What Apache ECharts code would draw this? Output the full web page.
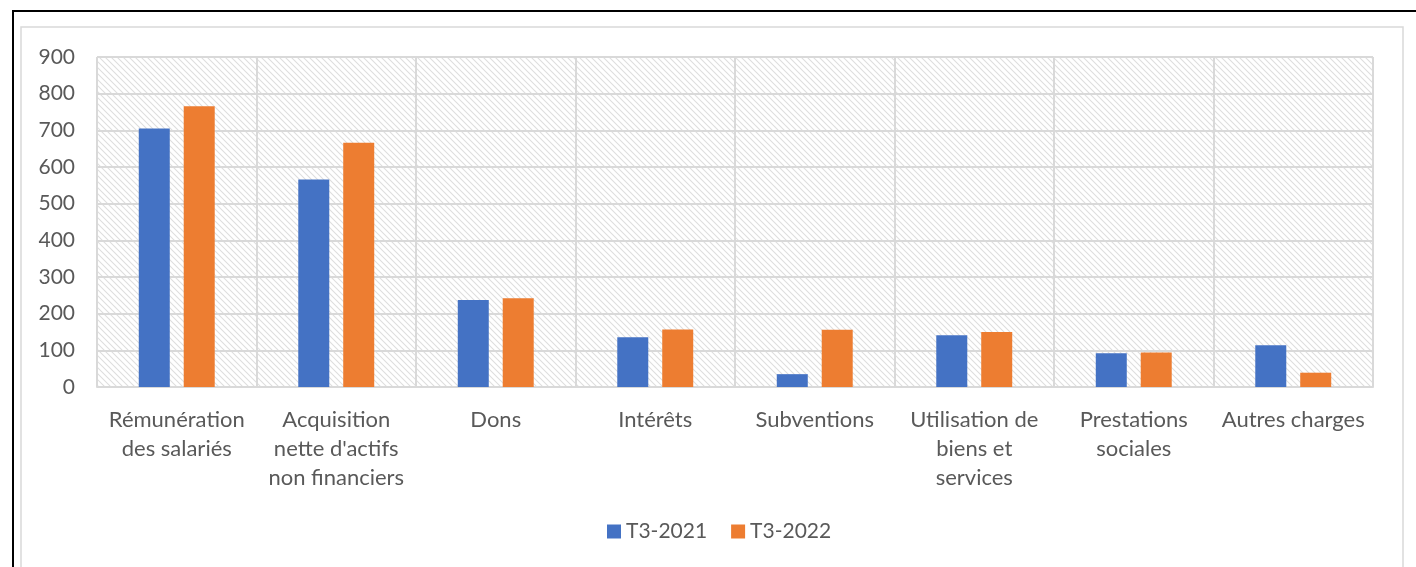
<!DOCTYPE html>
<html>
<head>
<meta charset="utf-8">
<script src="https://cdn.jsdelivr.net/npm/echarts@6/dist/echarts.min.js"></script>
<style>
html,body{margin:0;padding:0;background:#fff;}
#chart{width:1416px;height:567px;}
</style>
</head>
<body>
<div id="chart"></div>
<script>
var categories = [
  "Rémunération\ndes salariés",
  "Acquisition\nnette d'actifs\nnon financiers",
  "Dons",
  "Intérêts",
  "Subventions",
  "Utilisation de\nbiens et\nservices",
  "Prestations\nsociales",
  "Autres charges"
];
var seriesNames = ["T3-2021", "T3-2022"];
var values2021 = [705, 566, 237, 136, 35, 141, 92, 114];
var values2022 = [766, 666, 242, 157, 156, 150, 94, 39];
var yTicks = {min: 0, max: 900, interval: 100};

var pc = document.createElement('canvas');
pc.width = 6; pc.height = 6;
var ctx = pc.getContext('2d');
ctx.fillStyle = '#ffffff';
ctx.fillRect(0, 0, 6, 6);
ctx.strokeStyle = '#dedede';
ctx.lineWidth = 1.1;
ctx.beginPath();
ctx.moveTo(-1, -1); ctx.lineTo(7, 7);
ctx.moveTo(-7, -1); ctx.lineTo(1, 7);
ctx.moveTo(5, -1); ctx.lineTo(13, 7);
ctx.stroke();

var font = 'Lato';
var txt = '#595959';
var chart = echarts.init(document.getElementById('chart'));
chart.setOption({
  animation: false,
  backgroundColor: '#ffffff',
  graphic: [
    {type: 'rect', shape: {x: 21, y: 27, width: 1382, height: 560}, style: {fill: 'none', stroke: '#d9d9d9', lineWidth: 1.5}, z: -1},
    {type: 'line', shape: {x1: 12, y1: 11, x2: 1416, y2: 11}, style: {stroke: '#000', lineWidth: 2}},
    {type: 'line', shape: {x1: 13, y1: 11, x2: 13, y2: 567}, style: {stroke: '#000', lineWidth: 2}}
  ],
  grid: {left: 97, right: 43, top: 57, bottom: 180, show: true, borderWidth: 0,
    backgroundColor: {image: pc, repeat: 'repeat'}},
  legend: {
    data: seriesNames, top: 516, left: 602, icon: 'rect',
    itemWidth: 14, itemHeight: 14, itemGap: 24,
    textStyle: {color: txt, fontSize: 21, fontFamily: font}
  },
  xAxis: {
    type: 'category', data: categories,
    axisLine: {lineStyle: {color: '#d9d9d9', width: 2}},
    axisTick: {show: false},
    splitLine: {show: true, lineStyle: {color: '#d9d9d9', width: 2}},
    axisLabel: {color: txt, fontSize: 22, fontFamily: font, lineHeight: 29, margin: 18, interval: 0}
  },
  yAxis: {
    type: 'value', min: yTicks.min, max: yTicks.max, interval: yTicks.interval,
    axisLine: {show: false}, axisTick: {show: false},
    splitLine: {lineStyle: {color: '#d9d9d9', width: 2}},
    axisLabel: {color: txt, fontSize: 21, fontFamily: font, margin: 22}
  },
  series: [
    {name: seriesNames[0], type: 'bar', data: values2021, barWidth: 31, barGap: '45%',
      itemStyle: {color: '#4472C4'}},
    {name: seriesNames[1], type: 'bar', data: values2022, barWidth: 31, barGap: '45%',
      itemStyle: {color: '#ED7D31'}}
  ]
});
</script>
</body>
</html>
